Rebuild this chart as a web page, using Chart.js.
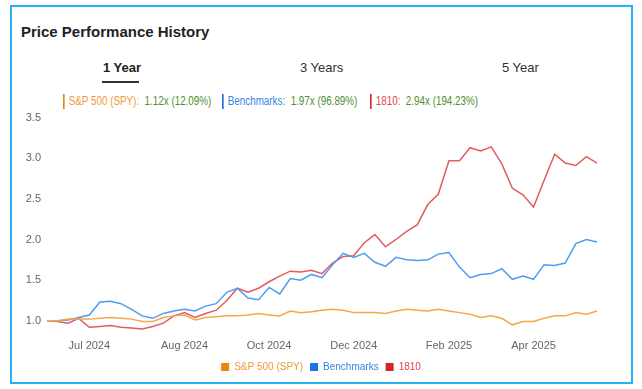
<!DOCTYPE html>
<html><head><meta charset="utf-8">
<script src="https://cdn.jsdelivr.net/npm/chart.js@4/dist/chart.umd.min.js"></script>
<style>
html,body{margin:0;padding:0;background:#fff;width:642px;height:389px;overflow:hidden;font-family:"Liberation Sans",Arial,sans-serif;}
#card{position:absolute;left:10px;top:5px;width:623px;height:379px;border:2px solid #27b3f3;box-sizing:border-box;}
#title{position:absolute;left:21px;top:23px;font-size:15px;font-weight:bold;color:#222;}
.tab{position:absolute;top:60px;font-size:13px;color:#333;white-space:nowrap;}
#t1{left:103px;font-weight:bold;color:#222;}
#uline{position:absolute;left:102px;top:81px;width:37px;height:2px;background:#333;}
#t3{left:300px;}
#t5{left:502px;}
.hl{position:absolute;top:94px;font-size:12px;white-space:nowrap;line-height:15px;padding-left:5px;border-left:2px solid;transform:scaleX(0.82);transform-origin:0 0;}
.g{color:#4f8f2b;}
#wrap{position:absolute;left:0;top:105px;width:642px;height:281px;}
</style></head>
<body>
<div id="card"></div>
<div id="title">Price Performance History</div>
<div class="tab" id="t1">1 Year</div><div id="uline"></div>
<div class="tab" id="t3">3 Years</div>
<div class="tab" id="t5">5 Year</div>
<div class="hl" style="left:63px;border-color:#e8870e;color:#ee9a3a;">S&amp;P 500 (SPY):&nbsp; <span class="g">1.12x (12.09%)</span></div>
<div class="hl" style="left:222px;border-color:#1a6fd8;color:#3584e4;">Benchmarks:&nbsp; <span class="g">1.97x (96.89%)</span></div>
<div class="hl" style="left:370px;border-color:#d42a2a;color:#e0464a;">1810:&nbsp; <span class="g">2.94x (194.23%)</span></div>
<div id="wrap"><canvas id="c" width="642" height="281"></canvas></div>
<script>
// x-axis category labels (one per weekly point; only some are shown)
const xLabels = ["","","","","Jul 2024","","","","","","","","","Aug 2024","","","","","","","","Oct 2024","","","","","","","","Dec 2024","","","","","","","","","Feb 2025","","","","","","","","Apr 2025","","","","","",""];
const seriesNames = ["S&P 500 (SPY)","Benchmarks","1810"];
const spy = [1.00,1.00,1.02,1.02,1.02,1.03,1.04,1.03,1.02,0.99,0.99,1.04,1.06,1.07,1.01,1.04,1.05,1.06,1.06,1.07,1.09,1.07,1.06,1.12,1.10,1.11,1.13,1.14,1.13,1.10,1.10,1.10,1.09,1.12,1.14,1.13,1.12,1.14,1.12,1.10,1.08,1.04,1.06,1.03,0.95,0.99,0.99,1.03,1.06,1.06,1.10,1.08,1.12];
const bench = [1.00,1.00,1.01,1.04,1.07,1.23,1.24,1.21,1.14,1.06,1.03,1.09,1.12,1.14,1.12,1.18,1.21,1.35,1.40,1.28,1.26,1.41,1.33,1.52,1.50,1.57,1.53,1.69,1.83,1.78,1.83,1.72,1.67,1.78,1.75,1.74,1.75,1.82,1.84,1.66,1.53,1.57,1.58,1.64,1.51,1.55,1.51,1.69,1.68,1.71,1.95,2.00,1.97];
const stock1810 = [1.00,0.99,0.97,1.03,0.92,0.93,0.94,0.92,0.91,0.90,0.93,0.97,1.06,1.10,1.04,1.09,1.13,1.25,1.40,1.35,1.40,1.48,1.55,1.61,1.60,1.62,1.58,1.71,1.79,1.80,1.96,2.06,1.91,2.00,2.10,2.18,2.43,2.56,2.97,2.97,3.13,3.09,3.14,2.93,2.63,2.55,2.40,2.73,3.05,2.94,2.91,3.02,2.94];

const lineColors = ["#f5a845","#4d9df3","#e35c5c"];
const boxColors = ["#e8870e","#1a73e8","#d62424"];
const textColors = ["#ee9a3a","#3584e4","#e0464a"];
const allData = [spy, bench, stock1810];

new Chart(document.getElementById('c'), {
  type: 'line',
  data: {
    labels: xLabels,
    datasets: allData.map((d, i) => ({
      label: seriesNames[i], data: d, borderColor: lineColors[i], backgroundColor: boxColors[i],
      borderWidth: 1.5, pointRadius: 0, pointHoverRadius: 0, tension: 0, fill: false
    }))
  },
  options: {
    responsive: false, animation: false,
    layout: { padding: { top: 0, right: 0, bottom: 4, left: 0 } },
    plugins: {
      tooltip: { enabled: false },
      legend: {
        position: 'bottom',
        labels: {
          boxWidth: 8, boxHeight: 8, padding: 7,
          font: { family: '"Liberation Sans",Arial,sans-serif', size: 10 },
          generateLabels: (chart) => chart.data.datasets.map((ds, i) => ({
            text: ds.label, fillStyle: boxColors[i], strokeStyle: boxColors[i], lineWidth: 0,
            fontColor: textColors[i], datasetIndex: i, hidden: false
          }))
        }
      }
    },
    scales: {
      x: {
        grid: { display: false, drawTicks: false }, border: { display: false },
        ticks: { autoSkip: false, maxRotation: 0, color: '#666', padding: 9,
          font: { family: '"Liberation Sans",Arial,sans-serif', size: 11 } },
        afterFit: s => { s.height = 24.5; }
      },
      y: {
        min: 0.88, max: 3.5,
        grid: { display: false, drawTicks: false }, border: { display: false },
        ticks: { stepSize: 0.5, includeBounds: false, color: '#666', padding: 6,
          callback: v => Number(v).toFixed(1),
          font: { family: '"Liberation Sans",Arial,sans-serif', size: 11 } },
        afterFit: s => { s.width = 47; }
      },
      yRight: {
        position: 'right', display: true,
        grid: { display: false, drawTicks: false }, border: { display: false },
        ticks: { display: false },
        afterFit: s => { s.width = 45; }
      }
    }
  }
});
</script>
</body></html>
